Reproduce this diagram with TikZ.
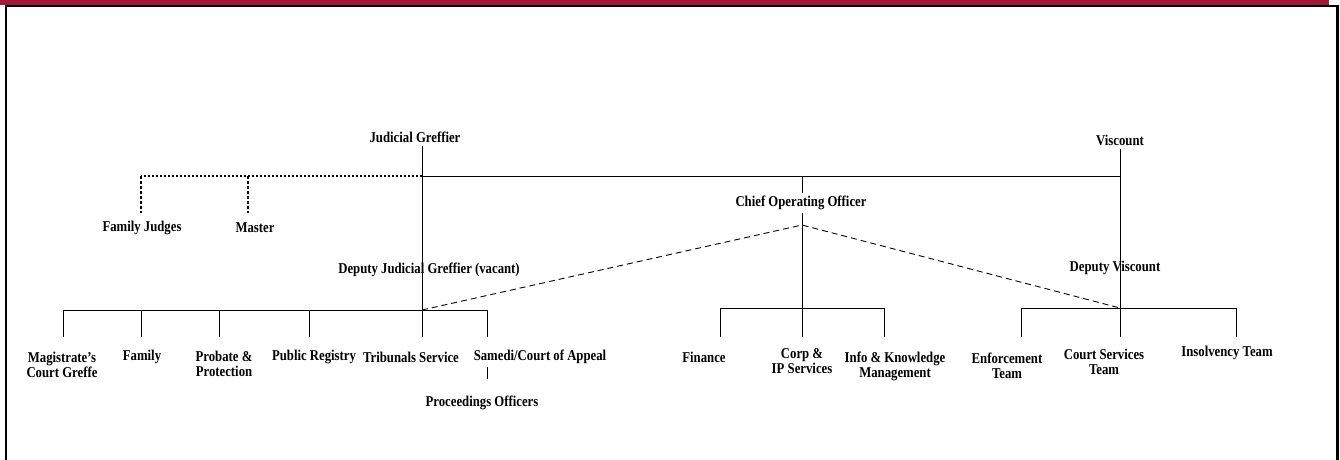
\documentclass[tikz,border=0pt]{standalone}
\usepackage{fontspec}
\setmainfont{Liberation Serif}[FakeStretch=0.85]
\usepackage{xcolor}
\usepackage{tikz}
\usetikzlibrary{calc}
\definecolor{bandred}{RGB}{168, 23, 58}

\begin{document}
\begin{tikzpicture}[
    x=1pt, y=-1pt,
    post/.style={font=\bfseries\fontsize{15}{15}\selectfont, align=center, inner sep=3pt},
    link/.style={line width=0.9pt},
    adviser/.style={line width=1.5pt, dash pattern=on 2.5pt off 1.5pt},
    adviserdrop/.style={line width=1.6pt, dash pattern=on 3pt off 2pt},
    liaison/.style={line width=0.9pt, dash pattern=on 6pt off 4pt}
]
\useasboundingbox (0,0) rectangle (1340,459);
\fill[bandred] (0,0) rectangle (1329,4.5);
\draw[line width=2.5pt] (6,470) -- (6,6) -- (1337.5,6) -- (1337.5,470);

\node[post] (jg) at (415,137) {Judicial Greffier};
\node[post] (visc) at (1120,140) {Viscount};
\node[post] (coo) at (801,203) {Chief Operating Officer};
\node[post] (famj) at (142,228) {Family Judges};
\node[post] (mast) at (255,228) {Master};
\node[post] (djg) at (429,270) {Deputy Judicial Greffier (vacant)};
\node[post] (dvisc) at (1115,268) {Deputy Viscount};

\node[post] (mag) at (62,365) {Magistrate's\\Court Greffe};
\node[post] (fam) at (142,357) {Family};
\node[post] (prob) at (224,364) {Probate \&\\Protection};
\node[post] (pubr) at (314,357) {Public Registry};
\node[post] (trib) at (411,357) {Tribunals Service};
\node[post] (sam) at (540,357) {Samedi/Court of Appeal};
\node[post] (proc) at (482,403) {Proceedings Officers};

\node[post] (fin) at (704,357) {Finance};
\node[post] (corp) at (802,361) {Corp \&\\IP Services};
\node[post] (ikm) at (895,366) {Info \& Knowledge\\Management};

\node[post] (enf) at (1007,366) {Enforcement\\Team};
\node[post] (cst) at (1104,362) {Court Services\\Team};
\node[post] (insol) at (1227,353) {Insolvency Team};

\coordinate (topJ) at (422,176);
\coordinate (topC) at (802,176);
\coordinate (hubJ) at (422,310);
\coordinate (hubC) at (802,308);
\coordinate (hubV) at (1120,308);
\coordinate (cooD) at (802,225);
\coordinate (famj-in) at (141,213);
\coordinate (mast-in) at (248,213);
\foreach \n/\x in {mag/63, fam/141, prob/219, pubr/309, trib/422, sam/487,
                   fin/720, corp/802, ikm/884, enf/1021, cst/1120, insol/1236}
  \coordinate (\n-in) at (\x,337);

\draw[link] (jg.south -| hubJ) -- (hubJ);
\draw[link] (topJ) -- (topJ -| hubV);
\draw[link] (visc.south -| hubV) -- (hubV);
\draw[link] (topC) -- (coo.north -| topC);
\draw[link] (coo.south -| topC) -- (hubC);
\draw[liaison] (hubJ) -- (cooD) -- (hubV);

\draw[adviser] (topJ) -- (famj-in |- topJ);
\draw[adviserdrop] (famj-in |- topJ) -- (famj-in);
\draw[adviserdrop] (mast-in |- topJ) -- (mast-in);

\draw[link] (mag-in |- hubJ) -- (sam-in |- hubJ);
\draw[link] (fin-in |- hubC) -- (ikm-in |- hubC);
\draw[link] (enf-in |- hubV) -- (insol-in |- hubV);
\foreach \n in {mag, fam, prob, pubr, trib, sam}
  \draw[link] (\n-in |- hubJ) -- (\n-in);
\foreach \n in {fin, corp, ikm}
  \draw[link] (\n-in |- hubC) -- (\n-in);
\foreach \n in {enf, cst, insol}
  \draw[link] (\n-in |- hubV) -- (\n-in);

\draw[link, shorten >=14pt] (sam.south -| sam-in) -- (proc.north -| sam-in);
\end{tikzpicture}
\end{document}
